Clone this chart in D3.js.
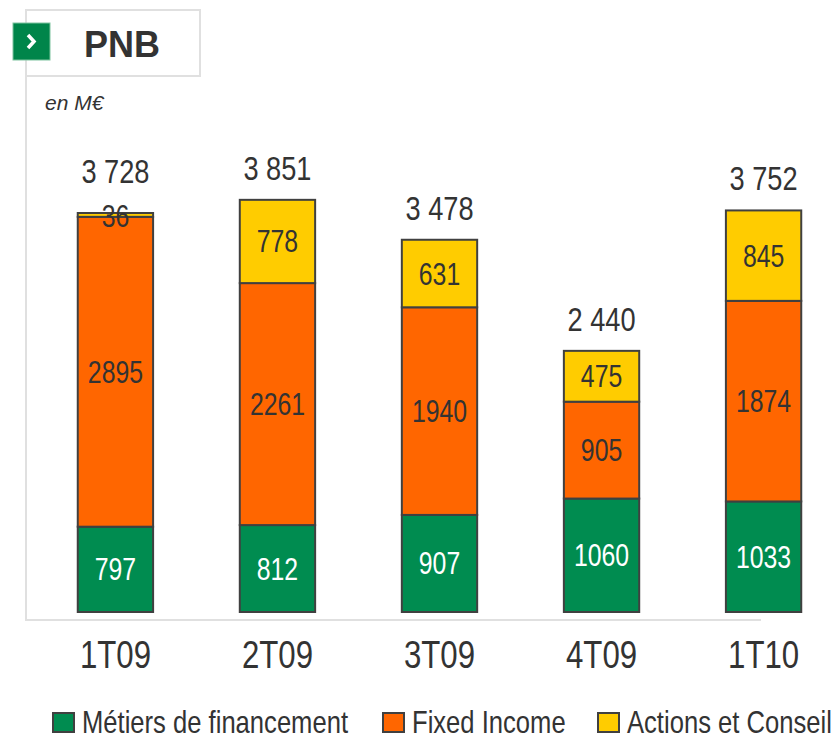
<!DOCTYPE html>
<html>
<head>
<meta charset="utf-8">
<script src="https://cdn.jsdelivr.net/npm/d3@7"></script>
<style>
  body { margin: 0; background: #fff; }
  text { font-family: "Liberation Sans", Arial, sans-serif; }
</style>
</head>
<body>
<div id="chart"></div>
<script>
// data
var quarters = ["1T09", "2T09", "3T09", "4T09", "1T10"];
var seriesNames = ["Métiers de financement", "Fixed Income", "Actions et Conseil"];
var metiers = [797, 812, 907, 1060, 1033];
var fixedIncome = [2895, 2261, 1940, 905, 1874];
var actions = [36, 778, 631, 475, 845];
var totals = ["3 728", "3 851", "3 478", "2 440", "3 752"];
var colors = ["#008C50", "#FF6600", "#FFCC00"];

var width = 840, height = 736;
var narrow = 0.8; // squeeze to mimic a narrow face
var svg = d3.select("#chart").append("svg")
    .attr("width", width).attr("height", height);

// frame
svg.append("rect").attr("x", 26).attr("y", 10).attr("width", 174).attr("height", 66)
    .attr("fill", "#fff").attr("stroke", "#e0e0e0").attr("stroke-width", 2);
svg.append("path").attr("d", "M26,76 V620 H761")
    .attr("fill", "none").attr("stroke", "#e0e0e0").attr("stroke-width", 2);
svg.append("rect").attr("x", 13).attr("y", 23).attr("width", 37).attr("height", 37)
    .attr("fill", "#00854A").attr("stroke", "#7fc49f").attr("stroke-width", 1);
svg.append("path").attr("d", "M28,35 L34,41.5 L28,48")
    .attr("fill", "none").attr("stroke", "#fff").attr("stroke-width", 3.5);
svg.append("text").attr("x", 122).attr("y", 57).attr("text-anchor", "middle")
    .style("font-weight", "bold").style("font-size", "36px").attr("fill", "#333").text("PNB");
svg.append("text").attr("x", 45).attr("y", 110)
    .style("font-style", "italic").style("font-size", "21px").attr("fill", "#333").text("en M€");

// scales
var x = d3.scaleBand().domain(quarters).range([34, 845]).paddingInner(0.535).paddingOuter(0.27);
var y = d3.scaleLinear().domain([0, 3728]).range([612, 213]);

var rows = quarters.map(function (q, i) {
    return { q: q, m: metiers[i], f: fixedIncome[i], a: actions[i] };
});
var layers = d3.stack().keys(["m", "f", "a"])(rows);

function label(sel, size, fill, anchor) {
    sel.append("text")
        .attr("transform", "scale(" + narrow + ",1)")
        .attr("text-anchor", anchor || "middle")
        .style("font-size", size + "px")
        .attr("fill", fill);
    return sel.select("text");
}

var g = svg.append("g");
layers.forEach(function (layer, li) {
    g.selectAll(".seg" + li).data(layer).enter().append("rect")
        .attr("x", function (d) { return x(d.data.q); })
        .attr("width", x.bandwidth())
        .attr("y", function (d) { return y(d[1]); })
        .attr("height", function (d) { return y(d[0]) - y(d[1]); })
        .attr("fill", colors[li])
        .attr("stroke", "#404040").attr("stroke-width", 2);
});

// segment labels
layers.forEach(function (layer, li) {
    var lg = g.selectAll(".lab" + li).data(layer).enter().append("g")
        .attr("transform", function (d) {
            var mid = (y(d[0]) + y(d[1])) / 2;
            if (d[1] - d[0] < 150) mid = y(d[1]) + 3;
            return "translate(" + (x(d.data.q) + x.bandwidth() / 2) + "," + (mid + 11) + ")";
        });
    label(lg, 31, li === 0 ? "#fff" : "#333").text(function (d) { return d[1] - d[0]; });
});

// totals
var tg = g.selectAll(".tot").data(rows).enter().append("g")
    .attr("transform", function (d) {
        var off = d.a < 150 ? 30 : 20;
        return "translate(" + (x(d.q) + x.bandwidth() / 2) + "," + (y(d.m + d.f + d.a) - off) + ")";
    });
label(tg, 34, "#333").text(function (d, i) { return totals[i]; });

// category labels
var cg = g.selectAll(".cat").data(quarters).enter().append("g")
    .attr("transform", function (d) { return "translate(" + (x(d) + x.bandwidth() / 2) + ",668)"; });
label(cg, 39, "#333").text(function (d) { return d; });

// legend
var legX = [53, 383, 598];
var leg = svg.selectAll(".leg").data(seriesNames).enter().append("g")
    .attr("transform", function (d, i) { return "translate(" + legX[i] + ",713)"; });
leg.append("rect").attr("width", 21).attr("height", 19)
    .attr("fill", function (d, i) { return colors[i]; })
    .attr("stroke", "#404040").attr("stroke-width", 2);
var lt = leg.append("g").attr("transform", "translate(29,20)");
label(lt, 32, "#333", "start").text(function (d) { return d; });
</script>
</body>
</html>
